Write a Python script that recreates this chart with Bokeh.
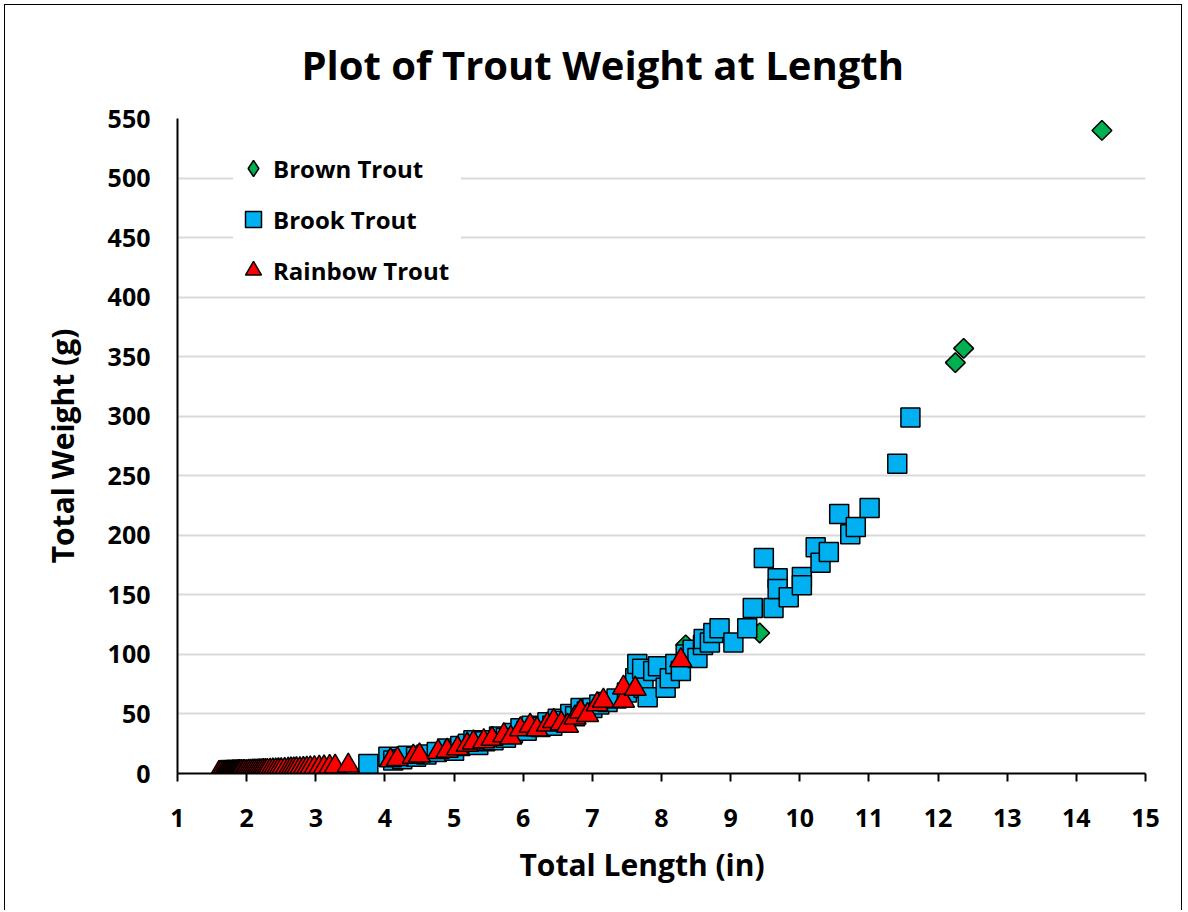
import numpy as np
from bokeh.plotting import figure
from bokeh.models import Legend, LegendItem, FixedTicker, Range1d, Title
from bokeh.embed import file_html
from bokeh.resources import INLINE

# ---- data ----
brown_len = [14.37, 12.37, 12.25, 9.42, 8.35]
brown_wt = [540, 357, 345, 118, 108]

brook_len = [3.76, 4.05, 4.12, 4.25, 4.33, 4.45, 4.60, 4.75, 4.90, 5.00,
             5.09, 5.20, 5.28, 5.35, 5.45, 5.57, 5.65, 5.75, 5.85, 5.96,
             6.05, 6.12, 6.25, 6.35, 6.42, 6.50, 6.60, 6.68, 6.75, 6.83,
             6.92, 7.00, 7.10, 7.22, 7.35, 7.50, 7.62, 7.65, 7.72, 7.74,
             7.80, 7.88, 7.95, 8.06, 8.12, 8.20, 8.28, 8.35, 8.45, 8.52,
             8.60, 8.61, 8.70, 8.75, 8.84, 9.04, 9.24, 9.32, 9.48, 9.62,
             9.68, 9.68, 9.84, 10.03, 10.03, 10.23, 10.30, 10.42, 10.57, 10.73,
             10.81, 11.01, 11.41, 11.60]
brook_wt = [8, 14, 11, 12, 15, 14, 16, 18, 21, 19,
            23, 25, 28, 24, 27, 28, 31, 30, 34, 38,
            36, 40, 39, 43, 40, 46, 44, 50, 48, 55,
            52, 55, 58, 60, 63, 68, 80, 92, 88, 72,
            64, 86, 90, 72, 80, 92, 86, 100, 104, 97,
            108, 113, 110, 118, 122, 110, 122, 139, 181, 139,
            164, 155, 148, 165, 158, 190, 177, 186, 218, 201,
            207, 223, 260, 299]

rainbow_len = [1.60, 1.63, 1.66, 1.68, 1.70, 1.72, 1.74, 1.76, 1.78, 1.80,
               1.82, 1.84, 1.86, 1.88, 1.90, 1.92, 1.95, 1.97, 2.00, 2.03,
               2.06, 2.09, 2.12, 2.15, 2.18, 2.21, 2.24, 2.27, 2.30, 2.34,
               2.38, 2.42, 2.46, 2.50, 2.55, 2.60, 2.64, 2.68, 2.72, 2.77,
               2.82, 2.87, 2.92, 2.98, 3.05, 3.12, 3.20, 3.28, 3.47,
               4.08, 4.18, 4.41, 4.50, 4.77, 4.90, 5.05, 5.19, 5.28, 5.43,
               5.55, 5.72, 5.82, 5.96, 6.10, 6.20, 6.35, 6.44, 6.55, 6.64,
               6.75, 6.83, 6.93, 7.07, 7.16, 7.45, 7.45, 7.62, 8.28]
rainbow_wt = [0.4, 0.5, 0.5, 0.6, 0.6, 0.7, 0.7, 0.8, 0.8, 0.9,
              0.9, 1.0, 1.0, 1.1, 1.1, 1.2, 1.2, 1.3, 1.3, 1.4,
              1.5, 1.6, 1.6, 1.7, 1.8, 1.9, 2.0, 2.0, 2.1, 2.2,
              2.4, 2.5, 2.6, 2.7, 2.9, 3.0, 3.2, 3.3, 3.4, 3.6,
              3.8, 4.0, 4.2, 4.4, 4.7, 5.0, 5.3, 5.7, 6.5,
              11, 12, 14, 15, 18, 19, 21, 24, 26, 27,
              29, 32, 30, 37, 40, 37, 41, 44, 42, 40,
              47, 52, 49, 58, 61, 61, 72, 71, 95]

x_ticks = list(range(1, 16))
y_ticks = list(range(0, 551, 50))

FONT = "Open Sans"
GREEN, BLUE, RED = "#00B050", "#00B0F0", "#FF0000"

p = figure(width=1178, height=906, output_backend="svg", toolbar_location=None,
           x_range=Range1d(1, 15), y_range=Range1d(0, 550),
           min_border_left=172, min_border_right=38, min_border_top=113,
           min_border_bottom=138)
p.styles = {"border": "1.5px solid black", "border-bottom": "none",
            "box-sizing": "border-box", "margin-left": "4px", "margin-top": "4px"}

p.title.text = "Plot of Trout Weight at Length"
p.title.align = "left"
p.title.vertical_align = "bottom"
p.title.offset = 124
p.title.standoff = 54
p.title.text_font = FONT
p.title.text_font_size = "40px"
p.title.text_font_style = "bold"
p.title.text_color = "black"

p.outline_line_color = None
p.xgrid.grid_line_color = None
p.ygrid.grid_line_color = "#d9d9d9"
p.ygrid.grid_line_width = 2

p.xaxis.ticker = FixedTicker(ticks=x_ticks)
p.yaxis.ticker = FixedTicker(ticks=y_ticks)
for ax in (p.xaxis[0], p.yaxis[0]):
    ax.axis_line_color = "black"
    ax.axis_line_width = 2
    ax.major_label_text_font = FONT
    ax.major_label_text_font_size = "25px"
    ax.major_label_text_font_style = "bold"
    ax.major_label_text_color = "black"
    ax.axis_label_text_font = FONT
    ax.axis_label_text_font_size = "30px"
    ax.axis_label_text_font_style = "bold"
    ax.axis_label_text_color = "black"
    ax.minor_tick_line_color = None

p.yaxis.axis_label = "Total Weight (g)"
p.xaxis.major_tick_line_color = "black"
p.xaxis.major_tick_line_width = 2
p.xaxis.major_tick_out = 8
p.xaxis.major_tick_in = 0
p.xaxis.major_label_standoff = 27
p.yaxis.major_tick_line_color = None
p.yaxis.major_tick_out = 0
p.yaxis.major_tick_in = 0
p.yaxis.major_label_standoff = 27
p.yaxis.axis_label_standoff = 22

xlab = Title(text="Total Length (in)", align="left", offset=342, standoff=24,
             text_font=FONT, text_font_size="30px", text_font_style="bold",
             text_color="black")
p.add_layout(xlab, "below")

# legend key glyph: a diamond drawn under (and fully covered by) the brown points
r_brown_key = p.scatter(brown_len, brown_wt, marker="diamond", size=17,
                        fill_color=GREEN, line_color="black", line_width=1.5)
r_brown = p.scatter(brown_len, brown_wt, marker="square", angle=np.pi / 4, size=14,
                    fill_color=GREEN, line_color="black", line_width=1.5)
r_brook = p.scatter(brook_len, brook_wt, marker="square", size=19,
                    fill_color=BLUE, line_color="black", line_width=1.5)
r_rain = p.scatter(rainbow_len, rainbow_wt, marker="triangle", size=22,
                   fill_color=RED, line_color="black", line_width=1.5)

legend = Legend(items=[LegendItem(label="Brown Trout", renderers=[r_brown_key]),
                       LegendItem(label="Brook Trout", renderers=[r_brook]),
                       LegendItem(label="Rainbow Trout", renderers=[r_rain])],
                location=(56, 483), orientation="vertical",
                glyph_width=40, glyph_height=40, spacing=11, padding=4, margin=0,
                label_standoff=-4, label_width=188, label_text_font=FONT,
                label_text_font_size="24px",
                label_text_font_style="bold", label_text_color="black",
                border_line_color=None, background_fill_color="white",
                background_fill_alpha=1.0)
p.add_layout(legend, "center")

open("out.html", "w").write(file_html(p, INLINE))
